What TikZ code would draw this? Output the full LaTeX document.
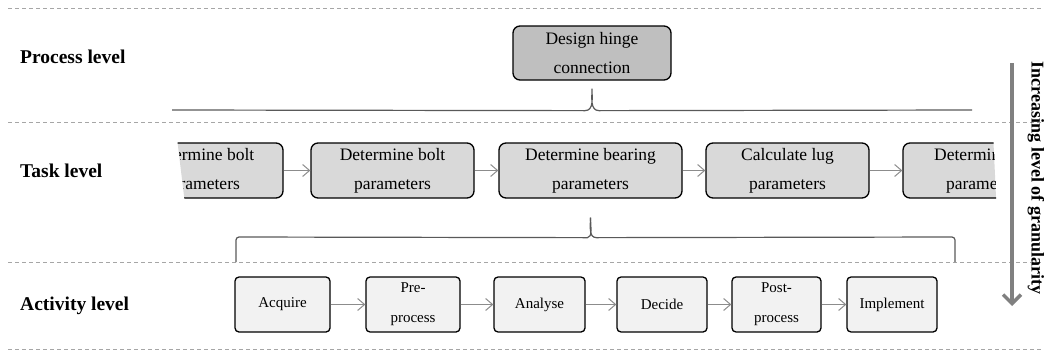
\documentclass[tikz,border=0pt]{standalone}
\usepackage{fontspec}
\setmainfont{Liberation Serif}
\usetikzlibrary{calc,arrows.meta}
\tikzstyle{proceso}=[draw=black,fill=black!25,line width=1.3pt,rounded corners=7pt,minimum width=158pt,minimum height=54pt,inner sep=0pt,align=center,font=\fontsize{17.5}{29}\selectfont]
\tikzstyle{tarea}=[draw=black,fill=black!15,line width=1.3pt,rounded corners=7pt,minimum height=55pt,inner sep=0pt,align=center,font=\fontsize{17.5}{29}\selectfont]
\tikzstyle{actividad}=[draw=black,fill=black!5,line width=1.3pt,rounded corners=4pt,minimum height=55pt,inner sep=0pt,align=center,font=\fontsize{15}{30}\selectfont]
\tikzstyle{nivel}=[anchor=west,inner sep=0pt,font=\fontsize{19.5}{22}\selectfont\bfseries]
\tikzstyle{flecha}=[draw=black!45,line width=1pt,-{Straight Barb[length=7pt,width=12pt]}]
\tikzstyle{llave}=[draw=black!65,line width=1.2pt,rounded corners=3pt]
\tikzstyle{separa}=[draw=black!35,dashed,dash pattern=on 4pt off 3pt,line width=0.8pt]

\begin{document}
\begin{tikzpicture}[x=1pt,y=-1pt]
		\useasboundingbox (0,0) rectangle (1044,351);
		% separadores de niveles
		\foreach \y in {8,122,262,349}
			\draw[separa] (8,\y)--(1044,\y);
		\node[nivel] (np) at (20,57) {Process level};
		\node[nivel] (nt) at (20,171) {Task level};
		\node[nivel] (na) at (20,306) {Activity level};
		% nivel de proceso
		\node[proceso] (pr) at (592,53) {Design hinge\\connection};
		% nivel de tareas, los extremos recortados
		\begin{scope}
			\clip (177,138)--(1000,138)--(1002,204)--(185,204)--cycle;
			\clip (0,0)--(987,0)--(1003,351)--(0,351)--cycle;
			\node[tarea,minimum width=163pt] (t1) at (201.5,170.5) {Determine bolt\\parameters};
			\node[tarea,minimum width=163pt] (t5) at (984.5,170.5) {Determine lug\\parameters};
		\end{scope}
		\node[tarea,minimum width=163pt] (t2) at (392.5,170.5) {Determine bolt\\parameters};
		\node[tarea,minimum width=183pt] (t3) at (590.5,170.5) {Determine bearing\\parameters};
		\node[tarea,minimum width=163pt] (t4) at (787.5,170.5) {Calculate lug\\parameters};
		\draw[flecha] (t1.east |- t2.west)--(t2.west);
		\draw[flecha] (t2)--(t3);
		\draw[flecha] (t3)--(t4);
		\draw[flecha] (t4)--(t5.west);
		% nivel de actividades
		\node[actividad,minimum width=95pt] (a1) at (282.5,304.5) {Acquire};
		\node[actividad,minimum width=94pt] (a2) at (413,304.5) {Pre-\\process};
		\node[actividad,minimum width=91pt] (a3) at (539.5,304.5) {Analyse};
		\node[actividad,minimum width=90pt] (a4) at (662,304.5) {Decide};
		\node[actividad,minimum width=89pt] (a5) at (776.5,304.5) {Post-\\process};
		\node[actividad,minimum width=90pt] (a6) at (892,304.5) {Implement};
		\foreach \i [count=\j from 2] in {1,...,5}
			\draw[flecha] (a\i)--(a\j);
		% llaves
		\coordinate (pp) at ($(pr.south)+(0,8)$);
		\draw[llave,rounded corners=0pt] (172,110)--($(pp)+(-7,22)$) to[out=0,in=-90] (pp) to[out=-90,in=180] ($(pp)+(7,22)$)--(972,110);
		\coordinate (tp) at ($(t3.south)+(0,19)$);
		\draw[llave] (236,262)--(236,237)--($(tp)+(-6,20)$) to[out=0,in=-90,rounded corners=0pt] (tp);
		\draw[llave] (tp) to[out=-90,in=180,rounded corners=0pt] ($(tp)+(6,20)$)--(955,237)--(955,262);
		% flecha de granularidad
		\coordinate (g1) at (1012,63);
		\coordinate (g2) at (1012,306);
		\draw[draw=black!50,line width=3.5pt,-{Straight Barb[length=9pt,width=18pt]}] (g1)--(g2);
		\node[rotate=-90,inner sep=0pt,font=\fontsize{18}{20}\selectfont\bfseries] (gr) at (1036,178) {Increasing level of granularity};
	\end{tikzpicture}
\end{document}
